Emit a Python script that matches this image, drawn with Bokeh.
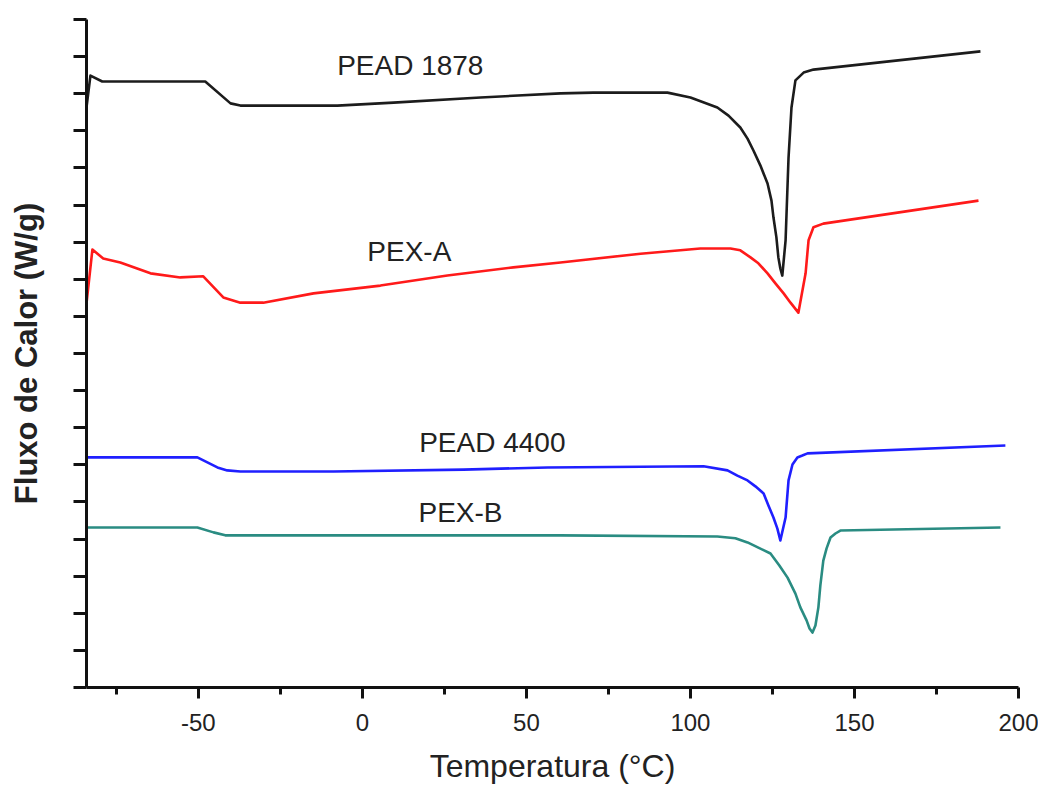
from bokeh.plotting import figure
from bokeh.models import FixedTicker
from bokeh.embed import file_html
from bokeh.resources import INLINE
from bokeh.core.properties import value

# ---- data (y in arbitrary heat-flow units) ----
temp_pead1878 = [-84.1, -82.9, -79.3, -47.9, -40.2, -37.2, -7.6, 9.5, 36.0, 60.4, 70.4, 93.0,
                 100.0, 108.2, 111.6, 115.2, 117.4, 119.2, 121.3, 123.5, 124.7, 125.3, 126.2,
                 126.8, 127.4, 128.0, 129.0, 129.9, 130.8, 132.0, 134.5, 137.5, 188.4]
flux_pead1878 = [15.63, 16.49, 16.33, 16.33, 15.74, 15.68, 15.68, 15.76, 15.90, 16.01, 16.03, 16.03,
                 15.90, 15.63, 15.41, 15.09, 14.79, 14.47, 14.07, 13.58, 13.12, 12.67, 12.13,
                 11.59, 11.29, 11.10, 12.05, 14.28, 15.63, 16.36, 16.57, 16.65, 17.14]

temp_pexa = [-84.1, -82.3, -79.0, -73.8, -64.6, -55.5, -48.5, -42.4, -37.2, -30.2, -14.9, 5.5,
             25.9, 46.0, 60.4, 84.8, 103.0, 112.2, 115.2, 118.3, 120.7, 123.5, 125.9, 128.4,
             130.5, 132.9, 135.1, 136.0, 137.5, 140.5, 187.8]
flux_pexa = [10.35, 11.80, 11.56, 11.45, 11.16, 11.05, 11.08, 10.51, 10.37, 10.37, 10.62, 10.83,
             11.10, 11.32, 11.45, 11.69, 11.83, 11.83, 11.78, 11.59, 11.43, 11.16, 10.89, 10.62,
             10.37, 10.10, 11.16, 12.05, 12.40, 12.50, 13.12]

temp_pead4400 = [-84.1, -50.3, -44.2, -41.2, -37.2, -8.8, 30.8, 56.4, 104.0, 111.3, 114.3, 117.4,
                 119.8, 122.3, 123.8, 125.3, 126.5, 127.4, 129.0, 129.9, 131.1, 132.6, 134.1,
                 135.7, 196.0]
flux_pead4400 = [6.20, 6.20, 5.93, 5.85, 5.82, 5.82, 5.87, 5.93, 5.96, 5.85, 5.71, 5.58,
                 5.42, 5.23, 4.90, 4.58, 4.28, 3.96, 4.58, 5.58, 6.01, 6.20, 6.25,
                 6.31, 6.52]

temp_pexb = [-84.1, -50.3, -45.4, -41.8, 60.4, 108.2, 113.7, 117.4, 120.7, 124.4, 127.1, 129.6,
             132.0, 133.5, 135.4, 136.3, 137.2, 138.1, 139.0, 139.6, 140.5, 141.5, 142.7, 144.2,
             145.7, 194.5]
flux_pexb = [4.31, 4.31, 4.18, 4.10, 4.10, 4.07, 4.02, 3.91, 3.77, 3.61, 3.29, 2.96,
             2.53, 2.16, 1.81, 1.59, 1.48, 1.67, 2.16, 2.75, 3.42, 3.75, 4.04, 4.15,
             4.23, 4.31]

series_names = ["PEAD 1878", "PEX-A", "PEAD 4400", "PEX-B"]
label_temp = [14.6, 14.3, 39.6, 29.9]
label_flux = [16.76, 11.75, 6.60, 4.72]

x_major_ticks = [-50, 0, 50, 100, 150, 200]
x_minor_ticks = [-75, -25, 25, 75, 125, 175]
x_tick_labels = {-50: "-50", 0: "0", 50: "50", 100: "100", 150: "150", 200: "200"}
y_ticks = list(range(0, 19))

x_title = "Temperatura (°C)"
y_title = "Fluxo de Calor (W/g)"

# ---- figure ----
p = figure(width=1038, height=787, x_range=(-84.1, 200), y_range=(0, 18),
           output_backend="svg", toolbar_location=None,
           min_border_left=86, min_border_top=19, min_border_right=20, min_border_bottom=100)
p.outline_line_color = None
p.xgrid.visible = False
p.ygrid.visible = False
p.background_fill_color = "white"
p.border_fill_color = "white"

FONT = "Liberation Sans"
AX_COL = "#111111"

xa = p.xaxis[0]
xa.ticker = FixedTicker(ticks=x_major_ticks, minor_ticks=x_minor_ticks)
xa.major_label_overrides = x_tick_labels
xa.axis_line_width = 3
xa.axis_line_color = AX_COL
xa.major_tick_line_width = 3
xa.major_tick_line_color = AX_COL
xa.minor_tick_line_width = 3
xa.minor_tick_line_color = AX_COL
xa.major_tick_in = 0
xa.major_tick_out = 11
xa.minor_tick_in = 0
xa.minor_tick_out = 7
xa.major_label_text_font = FONT
xa.major_label_text_font_size = "24px"
xa.major_label_text_color = "#222222"
xa.major_label_text_line_height = 1.0
xa.major_label_standoff = 15
xa.axis_label = x_title
xa.axis_label_text_font = FONT
xa.axis_label_text_font_size = "32px"
xa.axis_label_text_font_style = "normal"
xa.axis_label_text_color = "#222222"
xa.axis_label_text_line_height = 1.0
xa.axis_label_standoff = 14

ya = p.yaxis[0]
# unlabeled ticks: drawn as minor ticks so that no empty labels are produced
ya.ticker = FixedTicker(ticks=[], minor_ticks=y_ticks)
ya.axis_line_width = 3
ya.axis_line_color = AX_COL
ya.minor_tick_line_width = 3
ya.minor_tick_line_color = AX_COL
ya.minor_tick_in = 0
ya.minor_tick_out = 13
ya.major_tick_in = 0
ya.major_tick_out = 0
ya.major_label_standoff = 0
ya.axis_label = y_title
ya.axis_label_text_font = FONT
ya.axis_label_text_font_size = "31px"
ya.axis_label_text_font_style = "bold"
ya.axis_label_text_color = "#222222"
ya.axis_label_standoff = 30

colors = ["#1c1c1c", "#ff1a1a", "#1f1fff", "#2a8c82"]
temps = [temp_pead1878, temp_pexa, temp_pead4400, temp_pexb]
fluxes = [flux_pead1878, flux_pexa, flux_pead4400, flux_pexb]
for t, f, c in zip(temps, fluxes, colors):
    p.line(t, f, line_color=c, line_width=2.6, line_join="round")

p.text(x=label_temp, y=label_flux, text=series_names,
       text_font=value(FONT), text_font_size="28px", text_color="#222222",
       text_align="center", text_baseline="middle")

open("out.html", "w").write(file_html(p, INLINE))
